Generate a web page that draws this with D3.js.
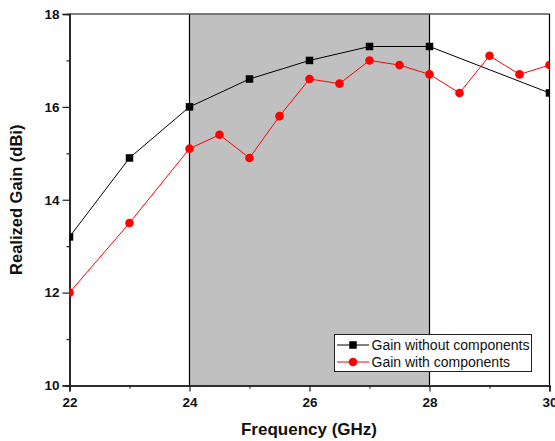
<!DOCTYPE html>
<html>
<head>
<meta charset="utf-8">
<script src="https://cdn.jsdelivr.net/npm/d3@7"></script>
<style>
  body { margin: 0; background: #fff; }
  svg { display: block; }
  text { font-family: Arial, "Liberation Sans", sans-serif; }
</style>
</head>
<body>
<svg id="chart" width="555" height="441"></svg>
<script>
// Realized gain vs frequency, with and without components
const freqWithout = [22, 23, 24, 25, 26, 27, 28, 30];
const gainWithout = [13.2, 14.9, 16.0, 16.6, 17.0, 17.3, 17.3, 16.3];
const freqWith = [22, 23, 24, 24.5, 25, 25.5, 26, 26.5, 27, 27.5, 28, 28.5, 29, 29.5, 30];
const gainWith = [12.0, 13.5, 15.1, 15.4, 14.9, 15.8, 16.6, 16.5, 17.0, 16.9, 16.7, 16.3, 17.1, 16.7, 16.9];
const band = [24, 28];
const xTicks = [22, 24, 26, 28, 30];
const yTicks = [10, 12, 14, 16, 18];
const seriesNames = ["Gain without components", "Gain with components"];

const svg = d3.select("#chart");
const pLeft = 69.5, pRight = 549.5, pTop = 14, pBottom = 385.5;

const x = d3.scaleLinear().domain([22, 30]).range([pLeft, pRight]);
const y = d3.scaleLinear().domain([10, 18]).range([pBottom, pTop]);

svg.append("defs").append("clipPath").attr("id", "plotClip")
  .append("rect").attr("x", pLeft).attr("y", pTop)
  .attr("width", pRight - pLeft).attr("height", pBottom - pTop);

// shaded band
svg.append("rect")
  .attr("x", x(band[0])).attr("y", pTop)
  .attr("width", x(band[1]) - x(band[0])).attr("height", pBottom - pTop)
  .attr("fill", "#c0c0c0");
band.forEach(b => {
  svg.append("line").attr("x1", x(b)).attr("x2", x(b))
    .attr("y1", pTop).attr("y2", pBottom)
    .attr("stroke", "#000").attr("stroke-width", 1.2);
});

// frame
svg.append("line").attr("x1", pLeft).attr("x2", pRight).attr("y1", pTop).attr("y2", pTop)
  .attr("stroke", "#555").attr("stroke-width", 1.6);
svg.append("line").attr("x1", pRight).attr("x2", pRight).attr("y1", pTop).attr("y2", pBottom)
  .attr("stroke", "#000").attr("stroke-width", 1.2);

// axes
const xAxis = d3.axisBottom(x).tickValues(xTicks).tickSize(6).tickPadding(6).tickFormat(d3.format("d"));
const xMinor = d3.axisBottom(x).tickValues([23, 25, 27, 29]).tickSize(3).tickFormat("");
const yAxis = d3.axisLeft(y).tickValues(yTicks).tickSize(7).tickPadding(3).tickFormat(d3.format("d"));
const yMinor = d3.axisLeft(y).tickValues([11, 13, 15, 17]).tickSize(3).tickFormat("");

function styleAxis(g) {
  g.select(".domain").attr("stroke", "#222").attr("stroke-width", 1.6);
  g.selectAll(".tick line").attr("stroke", "#222").attr("stroke-width", 1.2);
  g.selectAll(".tick text").attr("font-size", 13.5).attr("font-weight", "bold")
    .attr("fill", "#111").style("font-family", "Arial, 'Liberation Sans', sans-serif");
}
svg.append("g").attr("transform", `translate(0,${pBottom})`).call(xMinor).call(styleAxis);
svg.append("g").attr("transform", `translate(0,${pBottom})`).call(xAxis).call(styleAxis);
svg.append("g").attr("transform", `translate(${pLeft},0)`).call(yMinor).call(styleAxis);
svg.append("g").attr("transform", `translate(${pLeft},0)`).call(yAxis).call(styleAxis);

// axis titles
svg.append("text").attr("x", 309).attr("y", 435).attr("text-anchor", "middle")
  .attr("font-size", 17).attr("font-weight", "bold").attr("fill", "#111")
  .text("Frequency (GHz)");
svg.append("text").attr("transform", `translate(22,${(pTop + pBottom) / 2}) rotate(-90)`)
  .attr("text-anchor", "middle")
  .attr("font-size", 16.5).attr("font-weight", "bold").attr("fill", "#111")
  .text("Realized Gain (dBi)");

// series
const plot = svg.append("g").attr("clip-path", "url(#plotClip)");
const line = d3.line().x(d => x(d[0])).y(d => y(d[1]));
const dataWithout = freqWithout.map((f, i) => [f, gainWithout[i]]);
const dataWith = freqWith.map((f, i) => [f, gainWith[i]]);

plot.append("path").datum(dataWithout).attr("d", line)
  .attr("fill", "none").attr("stroke", "#000").attr("stroke-width", 1);
plot.append("path").datum(dataWith).attr("d", line)
  .attr("fill", "none").attr("stroke", "#ff0000").attr("stroke-width", 1);

const sq = 7.5;
plot.selectAll("rect.sq").data(dataWithout).join("rect").attr("class", "sq")
  .attr("x", d => x(d[0]) - sq / 2).attr("y", d => y(d[1]) - sq / 2)
  .attr("width", sq).attr("height", sq).attr("fill", "#000");
plot.selectAll("circle.dot").data(dataWith).join("circle").attr("class", "dot")
  .attr("cx", d => x(d[0])).attr("cy", d => y(d[1])).attr("r", 4.3)
  .attr("fill", "#ff0000");

// legend
const lg = svg.append("g");
lg.append("rect").attr("x", 334.5).attr("y", 334.5).attr("width", 197).attr("height", 37)
  .attr("fill", "#fff").attr("stroke", "#222").attr("stroke-width", 1);
const legendRows = [
  { name: seriesNames[0], color: "#000", shape: "square", cy: 345 },
  { name: seriesNames[1], color: "#ff0000", shape: "circle", cy: 362 }
];
legendRows.forEach(r => {
  lg.append("line").attr("x1", 337).attr("x2", 369).attr("y1", r.cy).attr("y2", r.cy)
    .attr("stroke", r.color).attr("stroke-width", 1);
  if (r.shape === "square") {
    lg.append("rect").attr("x", 353 - sq / 2).attr("y", r.cy - sq / 2)
      .attr("width", sq).attr("height", sq).attr("fill", r.color);
  } else {
    lg.append("circle").attr("cx", 353).attr("cy", r.cy).attr("r", 4.3).attr("fill", r.color);
  }
  lg.append("text").attr("x", 371.5).attr("y", r.cy + 5)
    .attr("font-size", 14).attr("fill", "#111").text(r.name);
});
</script>
</body>
</html>
